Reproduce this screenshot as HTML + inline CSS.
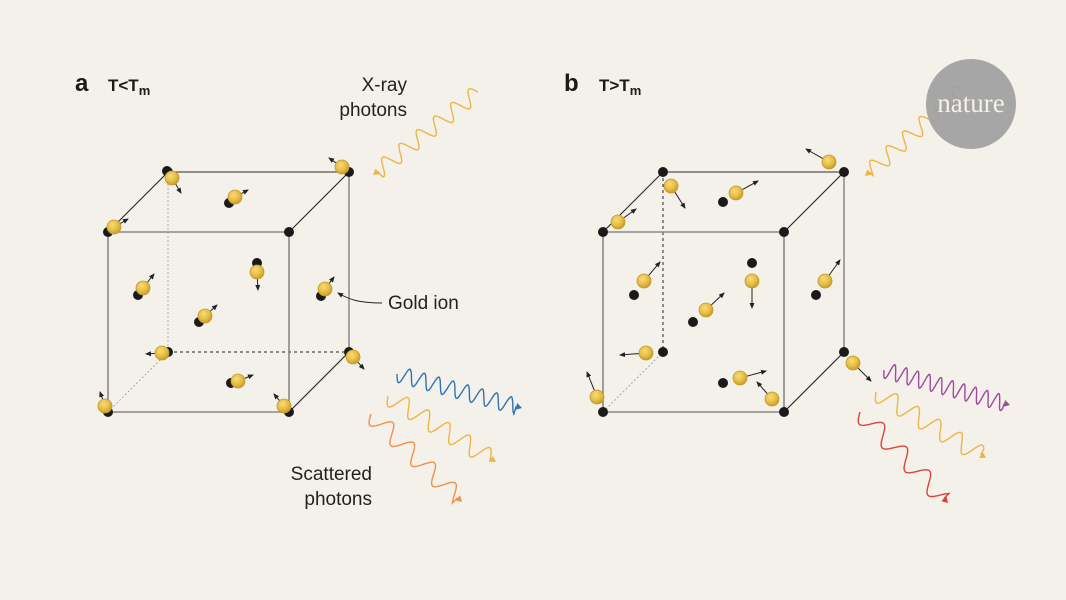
<!DOCTYPE html>
<html><head><meta charset="utf-8"><style>
html,body{margin:0;padding:0;background:#f4f1ea;}
svg{display:block;}
text{font-family:"Liberation Sans",sans-serif;}
</style></head><body>
<svg id="s" width="1066" height="600" viewBox="0 0 1066 600" xmlns="http://www.w3.org/2000/svg">
<defs>
<radialGradient id="g" cx="0.4" cy="0.35" r="0.65">
<stop offset="0" stop-color="#f7dc7a"/><stop offset="0.6" stop-color="#e6bd45"/><stop offset="1" stop-color="#c99d2a"/>
</radialGradient>
<marker id="ah" markerWidth="6" markerHeight="6" refX="5" refY="3" orient="auto" markerUnits="userSpaceOnUse"><path d="M0,0.5 L6,3 L0,5.5 z" fill="#222"/></marker>
</defs>
<rect width="1066" height="600" fill="#f4f1ea"/>
<g id="cubes"></g>
<g id="waves"></g>
<circle cx="971" cy="104" r="45" fill="#a0a0a0" fill-opacity="0.92"/>
<text x="971" y="112" text-anchor="middle" fill="#f4f1ea" style="font-family:'Liberation Serif',serif;font-size:27px;">nature</text>
<text x="75" y="91" font-size="24" font-weight="bold" fill="#1a1a1a">a</text>
<text x="108" y="91" font-size="17" font-weight="bold" fill="#1a1a1a">T&lt;T<tspan font-size="13" dy="4">m</tspan></text>
<text x="564" y="91" font-size="24" font-weight="bold" fill="#1a1a1a">b</text>
<text x="599" y="91" font-size="17" font-weight="bold" fill="#1a1a1a">T&gt;T<tspan font-size="13" dy="4">m</tspan></text>
<text x="407" y="91" font-size="19" text-anchor="end" fill="#222">X-ray</text>
<text x="407" y="116" font-size="19" text-anchor="end" fill="#222">photons</text>
<text x="388" y="309" font-size="19" fill="#222">Gold ion</text>
<path d="M382,303 C360,303 350,300 338,293" fill="none" stroke="#222" stroke-width="1" marker-end="url(#ah)"/>
<text x="372" y="480" font-size="19" text-anchor="end" fill="#222">Scattered</text>
<text x="372" y="505" font-size="19" text-anchor="end" fill="#222">photons</text>
</svg>
<script>
var NS="http://www.w3.org/2000/svg";
function el(p,t,a){var e=document.createElementNS(NS,t);for(var k in a)e.setAttribute(k,a[k]);p.appendChild(e);return e;}
var C=document.getElementById('cubes'),W=document.getElementById('waves');
function cube(ox,oy,ab){
 var f=[[ox,oy],[ox+181,oy],[ox+181,oy+180],[ox,oy+180]];
 var b=f.map(function(p){return [p[0]+60,p[1]-60];});
 if(ab){
  el(C,'line',{x1:b[3][0],y1:b[3][1],x2:b[2][0],y2:b[2][1],stroke:'#222','stroke-width':1,'stroke-dasharray':'3,3'});
  el(C,'line',{x1:b[0][0],y1:b[0][1],x2:b[3][0],y2:b[3][1],stroke:'#aaa','stroke-width':1,'stroke-dasharray':'2,2'});
 } else {
  el(C,'line',{x1:b[0][0],y1:b[0][1],x2:b[3][0],y2:b[3][1],stroke:'#222','stroke-width':1,'stroke-dasharray':'3,3'});
 }
 el(C,'line',{x1:f[3][0],y1:f[3][1],x2:b[3][0],y2:b[3][1],stroke:'#aaa','stroke-width':1,'stroke-dasharray':'2,2'});
 el(C,'line',{x1:b[0][0],y1:b[0][1],x2:b[1][0],y2:b[1][1],stroke:'#555','stroke-width':1.3});
 el(C,'line',{x1:b[1][0],y1:b[1][1],x2:b[2][0],y2:b[2][1],stroke:'#888','stroke-width':1.5});
 [0,1,2].forEach(function(i){el(C,'line',{x1:f[i][0],y1:f[i][1],x2:b[i][0],y2:b[i][1],stroke:'#222','stroke-width':1.1});});
 el(C,'polygon',{points:f.map(function(p){return p.join(',')}).join(' '),fill:'none',stroke:'#888','stroke-width':1.6});
 f.concat(b).forEach(function(p){el(C,'circle',{cx:p[0],cy:p[1],r:5,fill:'#1a1a1a'});});
}
cube(108,232,true);cube(603,232,false);
function atom(gx,gy,bx,by,ax,ay){
 if(bx!=null) el(C,'circle',{cx:bx,cy:by,r:5,fill:'#1a1a1a'});
 var dx=ax-gx,dy=ay-gy,d=Math.sqrt(dx*dx+dy*dy);
 el(C,'line',{x1:gx+dx/d*6,y1:gy+dy/d*6,x2:ax,y2:ay,stroke:'#222','stroke-width':1,'marker-end':'url(#ah)'});
 el(C,'circle',{cx:gx,cy:gy,r:7,fill:'url(#g)',stroke:'#c49a2c','stroke-width':0.8});
}
[[172,178,167,171,181,193],[342,167,null,null,329,158],[114,227,null,null,128,219],[235,197,229,203,248,190],
[257,272,257,263,258,290],[143,288,138,295,154,274],[325,289,321,296,334,277],[205,316,199,322,217,305],
[162,353,null,null,146,354],[353,357,null,null,364,369],[238,381,231,383,253,375],[105,406,null,null,100,392],[284,406,null,null,274,394],
[829,162,null,null,806,149],[671,186,null,null,685,208],[736,193,723,202,758,181],[618,222,null,null,636,209],
[644,281,634,295,660,262],[752,281,752,263,752,308],[706,310,693,322,724,293],[825,281,816,295,840,260],
[646,353,null,null,620,355],[853,363,null,null,871,381],[740,378,723,383,766,371],[772,399,null,null,757,382],[597,397,null,null,587,372]
].forEach(function(a){atom.apply(null,a);});
function wave(x1,y1,x2,y2,lam,amp,col){
 var dx=x2-x1,dy=y2-y1,L=Math.sqrt(dx*dx+dy*dy),ux=dx/L,uy=dy/L,nx=-uy,ny=ux,d='';
 var Le=L-6;
 for(var s=0;s<=Le;s+=0.7){var o=amp*Math.sin(2*Math.PI*s/lam);d+=(s?'L':'M')+(x1+ux*s+nx*o).toFixed(1)+','+(y1+uy*s+ny*o).toFixed(1);}
 var ex=x1+ux*Le,ey=y1+uy*Le;d+='L'+ex.toFixed(1)+','+ey.toFixed(1);
 el(W,'path',{d:d,fill:'none',stroke:col,'stroke-width':1.4});
 el(W,'path',{d:'M'+x2+','+y2+'L'+(ex+nx*3.5)+','+(ey+ny*3.5)+'L'+(ex-nx*3.5)+','+(ey-ny*3.5)+'z',fill:col});
}
wave(478,92,373,175,22,8,'#efb444');
wave(397,374,522,408,15,8,'#2e75b0');
wave(388,396,496,462,24,9,'#efb444');
wave(371,414,462,502,29,9,'#f0904a');
wave(962,90,865,176,22,8,'#efb444');
wave(884,370,1010,405,12,8,'#9e4a9e');
wave(876,392,986,458,25,9,'#efb444');
wave(860,412,948,503,33,9,'#d9443a');
</script>
</body></html>
